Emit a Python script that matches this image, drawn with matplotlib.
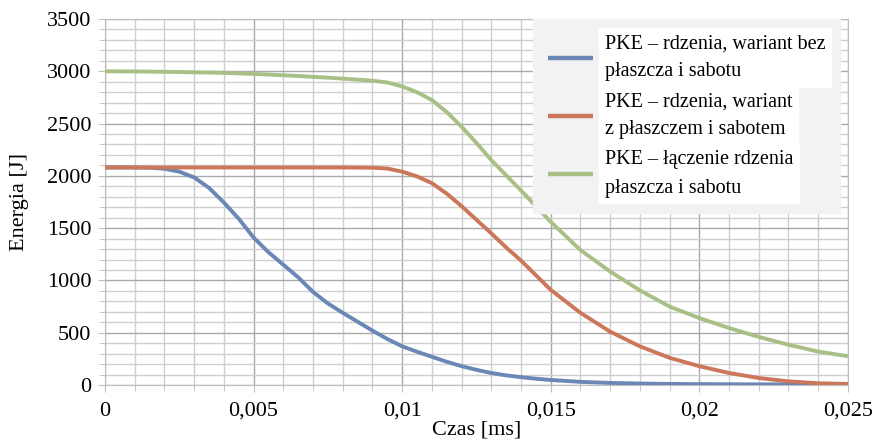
import numpy as np
import matplotlib
matplotlib.use('Agg')
import matplotlib.pyplot as plt
from matplotlib.ticker import MultipleLocator

plt.rcParams['font.family'] = ['Liberation Serif', 'DejaVu Serif']

# czas [ms]
t = [0, 0.001, 0.0015, 0.002, 0.0025, 0.003, 0.0035, 0.004, 0.0045, 0.005,
     0.0055, 0.006, 0.0065, 0.007, 0.0075, 0.008, 0.009, 0.0095, 0.01, 0.0105,
     0.011, 0.0115, 0.012, 0.0125, 0.013, 0.0135, 0.014, 0.0145, 0.015, 0.016,
     0.017, 0.018, 0.019, 0.02, 0.021, 0.022, 0.023, 0.024, 0.025]

# PKE - rdzenia, wariant bez plaszcza i sabotu
blue = [2080, 2080, 2078, 2068, 2040, 1985, 1885, 1745, 1590, 1410,
        1270, 1150, 1030, 890, 780, 690, 520, 440, 370, 318,
        270, 222, 180, 145, 115, 92, 75, 60, 48, 30,
        20, 14, 10, 8, 7, 6, 6, 5, 5]
# PKE - rdzenia, wariant z plaszczem i sabotem
orange = [2080, 2080, 2080, 2080, 2080, 2080, 2080, 2080, 2080, 2080,
          2080, 2080, 2080, 2080, 2080, 2080, 2078, 2070, 2040, 1995,
          1930, 1830, 1710, 1580, 1450, 1315, 1190, 1050, 910, 690,
          510, 370, 260, 180, 115, 67, 35, 17, 10]
# PKE - laczenie rdzenia plaszcza i sabotu
green = [3000, 2998, 2997, 2995, 2993, 2990, 2988, 2985, 2980, 2975,
         2969, 2962, 2955, 2947, 2939, 2930, 2910, 2893, 2855, 2800,
         2725, 2610, 2470, 2315, 2150, 2005, 1860, 1710, 1560, 1290,
         1085, 905, 750, 640, 545, 460, 385, 320, 275]

labels = ['PKE – rdzenia, wariant bez\npłaszcza i sabotu',
          'PKE – rdzenia, wariant\nz płaszczem i sabotem',
          'PKE – łączenie rdzenia\npłaszcza i sabotu']
colors = ['#6a87b5', '#cc765a', '#a8c086']

xticks = [0, 0.005, 0.01, 0.015, 0.02, 0.025]
xticklabels = ['0', '0,005', '0,01', '0,015', '0,02', '0,025']
yticks = [0, 500, 1000, 1500, 2000, 2500, 3000, 3500]

fig = plt.figure(figsize=(8.76, 4.47), dpi=100)
ax = fig.add_axes([0.1199, 0.1387, 0.848, 0.8188])

for y, c, l in zip([blue, orange, green], colors, labels):
    ax.plot(t, y, color=c, linewidth=2.8, label=l, solid_capstyle='butt', zorder=3)

ax.set_xlim(0, 0.025)
ax.set_ylim(0, 3500)
ax.set_xticks(xticks)
ax.set_xticklabels(xticklabels)
ax.set_yticks(yticks)
ax.xaxis.set_minor_locator(MultipleLocator(0.001))
ax.yaxis.set_minor_locator(MultipleLocator(100))

ax.grid(which='major', color='#a9a9a9', linewidth=1.0)
ax.grid(which='minor', color='#cfcfcf', linewidth=1.0)
ax.set_axisbelow(True)
for s in ax.spines.values():
    s.set_color('#bdbdbd')
ax.tick_params(which='both', direction='out', color='#bdbdbd', labelsize=16)
ax.tick_params(axis='y', which='major', length=5, pad=5)
ax.tick_params(axis='x', which='major', length=5, pad=7)
ax.tick_params(which='minor', length=4)

ax.set_xlabel('Czas [ms]', fontsize=16, labelpad=0)
ax.set_ylabel('Energia [J]', fontsize=16, labelpad=13)

leg = ax.legend(loc='upper right', bbox_to_anchor=(0.99, 1.0), fontsize=14.5,
                frameon=True, fancybox=False, facecolor='#f2f2f2', edgecolor='#f2f2f2',
                framealpha=1.0, handlelength=2.2, handletextpad=0.6,
                labelspacing=0.55, borderpad=0.75, borderaxespad=0.0)
for txt in leg.get_texts():
    txt.set_linespacing(1.65)
    txt.set_backgroundcolor('white')
for h in leg.get_lines():
    h.set_linewidth(3.2)

fig.savefig('out.png', dpi=100)
